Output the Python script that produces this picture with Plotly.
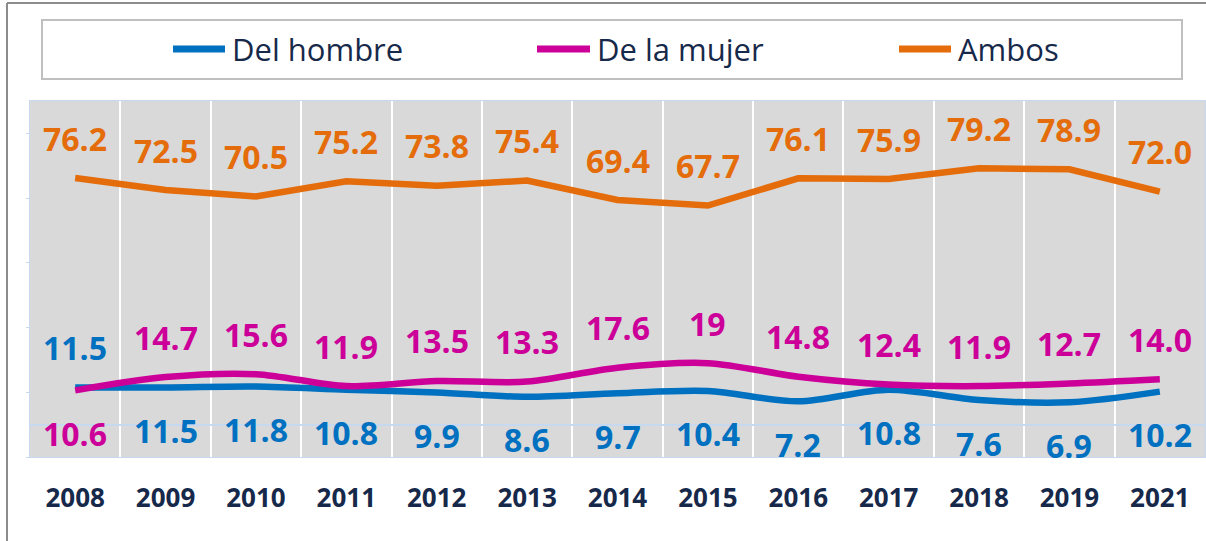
import plotly.graph_objects as go

years = ["2008", "2009", "2010", "2011", "2012", "2013", "2014", "2015",
         "2016", "2017", "2018", "2019", "2021"]
hombre = [11.5, 11.5, 11.8, 10.8, 9.9, 8.6, 9.7, 10.4, 7.2, 10.8, 7.6, 6.9, 10.2]
mujer = [10.6, 14.7, 15.6, 11.9, 13.5, 13.3, 17.6, 19, 14.8, 12.4, 11.9, 12.7, 14.0]
ambos = [76.2, 72.5, 70.5, 75.2, 73.8, 75.4, 69.4, 67.7, 76.1, 75.9, 79.2, 78.9, 72.0]
hombre_txt = ["11.5", "11.5", "11.8", "10.8", "9.9", "8.6", "9.7", "10.4", "7.2", "10.8", "7.6", "6.9", "10.2"]
mujer_txt = ["10.6", "14.7", "15.6", "11.9", "13.5", "13.3", "17.6", "19", "14.8", "12.4", "11.9", "12.7", "14.0"]
ambos_txt = ["76.2", "72.5", "70.5", "75.2", "73.8", "75.4", "69.4", "67.7", "76.1", "75.9", "79.2", "78.9", "72.0"]
series_names = ["Del hombre", "De la mujer", "Ambos"]

C_H = "#0070C0"
C_M = "#CC0099"
C_A = "#E46C0A"
NAVY = "#17294A"
LIGHTBLUE = "#C6D9F1"
FONT = "Open Sans, Calibri, sans-serif"

W, H = 1206, 541
L, R, T, B = 30, 1, 101, 84
pw, ph = W - L - R, H - T - B

def px(x):
    return (x - L) / pw

def py(y):
    return (H - B - y) / ph

fig = go.Figure()
fig.add_trace(go.Scatter(x=years, y=hombre, mode="lines", name=series_names[0],
                         line=dict(color=C_H, width=6.5, shape="spline", smoothing=0.9),
                         showlegend=False))
fig.add_trace(go.Scatter(x=years, y=mujer, mode="lines", name=series_names[1],
                         line=dict(color=C_M, width=6.5, shape="spline", smoothing=0.9),
                         showlegend=False))
fig.add_trace(go.Scatter(x=years, y=ambos, mode="lines", name=series_names[2],
                         line=dict(color=C_A, width=6.5, shape="linear"),
                         showlegend=False))

annotations = []
label_font = dict(family=FONT, size=32, weight="bold")
for i, yr in enumerate(years):
    annotations.append(dict(x=i, y=ambos[i], text=ambos_txt[i], showarrow=False,
                            yshift=40, font=dict(color=C_A, **label_font)))
    h_up = hombre[i] > mujer[i]
    annotations.append(dict(x=i, y=hombre[i], text=hombre_txt[i], showarrow=False,
                            yshift=40 if h_up else -43, font=dict(color=C_H, **label_font)))
    annotations.append(dict(x=i, y=mujer[i], text=mujer_txt[i], showarrow=False,
                            yshift=-43 if h_up else 40, font=dict(color=C_M, **label_font)))

# custom legend
shapes = []
shapes.append(dict(type="rect", xref="paper", yref="paper", x0=px(42), x1=px(1182),
                   y0=py(79), y1=py(20), line=dict(color="#BFBFBF", width=2),
                   fillcolor="white", layer="above"))
leg = [(170, 228, 230, C_H), (534, 593, 595, C_M), (896, 954, 956, C_A)]
for (x0, x1, xt, col), name in zip(leg, series_names):
    shapes.append(dict(type="line", xref="paper", yref="paper", x0=px(x0 + 3), x1=px(x1 - 3),
                       y0=py(49), y1=py(49), line=dict(color=col, width=7), layer="above"))
    annotations.append(dict(xref="paper", yref="paper", x=px(xt), y=py(49), text=name,
                            showarrow=False, xanchor="left", yanchor="middle",
                            font=dict(family=FONT, size=31, color=NAVY)))
# outer frame
shapes.append(dict(type="line", xref="paper", yref="paper", x0=px(7), x1=px(1206),
                   y0=py(3), y1=py(3), line=dict(color="#8C8C8C", width=2)))
shapes.append(dict(type="line", xref="paper", yref="paper", x0=px(7), x1=px(7),
                   y0=py(3), y1=py(541), line=dict(color="#8C8C8C", width=2)))

fig.update_layout(
    width=W, height=H,
    margin=dict(l=L, r=R, t=T, b=B),
    paper_bgcolor="white",
    plot_bgcolor="#D9D9D9",
    showlegend=False,
    annotations=annotations,
    shapes=shapes,
    xaxis=dict(type="category", range=[-0.5, 12.5], tickson="boundaries",
               showgrid=True, gridcolor="white", gridwidth=2,
               showline=True, linecolor=LIGHTBLUE, linewidth=1, mirror=True,
               ticks="", ticklabelstandoff=18,
               tickfont=dict(family=FONT, size=26, color=NAVY, weight="bold")),
    yaxis=dict(range=[-10, 100], showgrid=False, zeroline=True, zerolinecolor=LIGHTBLUE,
               zerolinewidth=1.5, showline=True, linecolor=LIGHTBLUE, linewidth=1, mirror=True,
               tickvals=[-10, 10, 30, 50, 70, 90], showticklabels=False,
               ticks="outside", ticklen=3, tickcolor=LIGHTBLUE),
)

fig.write_html("out.html", config={"displayModeBar": False},
               post_script="document.body.style.margin='0';")
